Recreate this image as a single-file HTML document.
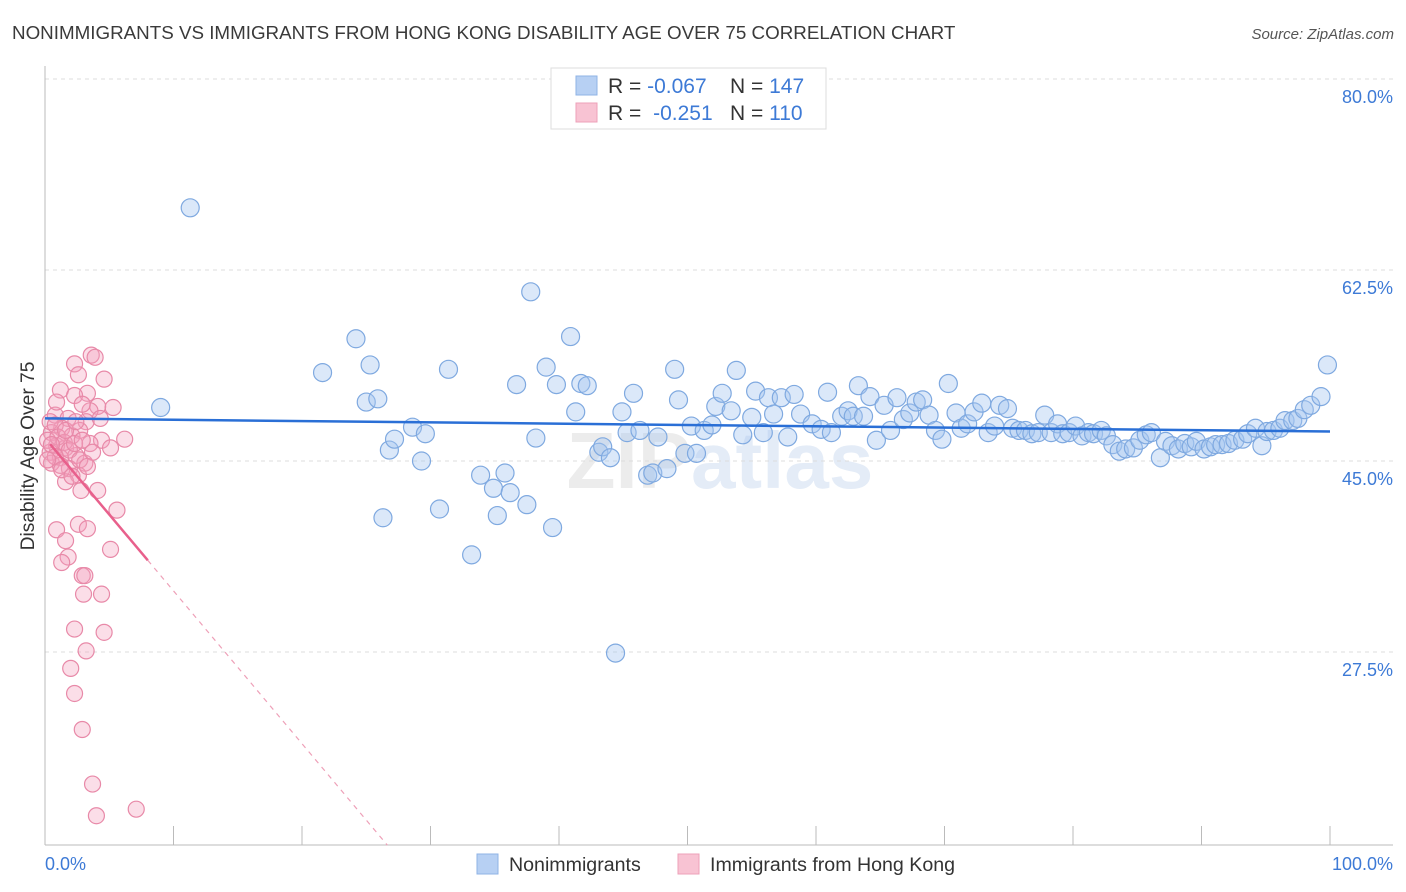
<!DOCTYPE html>
<html><head><meta charset="utf-8">
<style>
body{margin:0;background:#fff;font-family:"Liberation Sans",sans-serif;}
svg{display:block}
</style></head>
<body>
<svg id="chart" width="1406" height="892" xmlns="http://www.w3.org/2000/svg" font-family="Liberation Sans, sans-serif">
<text x="12" y="39" font-size="18.8" fill="#3a3a3a">NONIMMIGRANTS VS IMMIGRANTS FROM HONG KONG DISABILITY AGE OVER 75 CORRELATION CHART</text>
<text x="1394" y="39" font-size="15" fill="#555" font-style="italic" text-anchor="end">Source: ZipAtlas.com</text>
<text x="720" y="488" font-size="80" text-anchor="middle" font-weight="bold"><tspan fill="#ececec">ZIP</tspan><tspan fill="#e4ecf7">atlas</tspan></text>
<g id="grid"></g>
<g id="axes"></g>
<g id="pinkpts"></g>
<g id="bluepts"></g>
<g id="trends"></g>
<text transform="translate(34,456) rotate(-90)" font-size="19.2" fill="#333" text-anchor="middle">Disability Age Over 75</text>
<g>
<rect x="551" y="68" width="275" height="61" fill="#fff" stroke="#ddd"/>
<rect x="576" y="76" width="21" height="19" fill="#b7d0f3" stroke="#8fb3e6"/>
<rect x="576" y="103" width="21" height="19" fill="#f8c3d3" stroke="#eea0b8"/>
<text x="608" y="93" font-size="21" fill="#333">R = <tspan fill="#3d7ad6">-0.067</tspan></text>
<text x="730" y="93" font-size="21" fill="#333">N = <tspan fill="#3d7ad6">147</tspan></text>
<text x="608" y="120" font-size="21" fill="#333">R = <tspan fill="#3d7ad6" dx="6">-0.251</tspan></text>
<text x="730" y="120" font-size="21" fill="#333">N = <tspan fill="#3d7ad6">110</tspan></text>
</g>
<g>
<rect x="477" y="854" width="21" height="20" fill="#b7d0f3" stroke="#8fb3e6"/>
<text x="509" y="871" font-size="19.6" fill="#333">Nonimmigrants</text>
<rect x="678" y="854" width="21" height="20" fill="#f8c3d3" stroke="#eea0b8"/>
<text x="710" y="871" font-size="19.6" fill="#333">Immigrants from Hong Kong</text>
</g>
</svg>
<script>
const yTicks=[80.0,62.5,45.0,27.5];
const yTickLabels=["80.0%","62.5%","45.0%","27.5%"];
const xTicks=[0,10,20,30,40,50,60,70,80,90,100];
const blueX=[11.3,9.0,21.6,24.2,25.3,25.0,25.9,26.3,26.8,27.2,28.6,29.6,29.3,30.7,31.4,33.2,33.9,34.9,35.2,35.8,36.2,36.7,37.5,37.8,38.2,39.0,39.5,39.8,40.9,41.3,41.7,42.2,43.1,43.4,44.0,44.4,44.9,45.3,45.8,46.3,46.9,47.3,47.7,48.4,49.0,49.3,49.8,50.3,50.7,51.3,51.9,52.2,52.7,53.4,53.8,54.3,55.3,55.0,55.9,56.3,56.7,57.3,57.8,58.3,58.8,59.7,60.4,60.9,61.2,62.0,62.5,62.9,63.3,63.7,64.2,64.7,65.3,65.8,66.3,66.8,67.3,67.8,68.3,68.8,69.3,69.8,70.3,70.9,71.3,71.8,72.3,72.9,73.4,73.9,74.3,74.9,75.3,75.8,76.3,76.8,77.3,77.8,78.3,78.8,79.2,79.7,80.2,80.7,81.2,81.6,82.2,82.6,83.1,83.6,84.1,84.7,85.2,85.7,86.1,86.8,87.2,87.7,88.2,88.7,89.2,89.6,90.2,90.7,91.1,91.6,92.1,92.6,93.2,93.6,94.2,94.7,95.1,95.6,96.1,96.5,97.1,97.5,98.0,98.5,99.3,99.8];
const blueY=[68.2,49.9,53.1,56.2,53.8,50.4,50.7,39.8,46.0,47.0,48.1,47.5,45.0,40.6,53.4,36.4,43.7,42.5,40.0,43.9,42.1,52.0,41.0,60.5,47.1,53.6,38.9,52.0,56.4,49.5,52.1,51.9,45.8,46.3,45.3,27.4,49.5,47.6,51.2,47.8,43.7,43.9,47.2,44.3,53.4,50.6,45.7,48.2,45.7,47.8,48.3,50.0,51.2,49.6,53.3,47.4,51.4,49.0,47.6,50.8,49.3,50.8,47.2,51.1,49.3,48.4,47.9,51.3,47.6,49.1,49.6,49.1,51.9,49.1,50.9,46.9,50.1,47.8,50.8,48.8,49.4,50.4,50.6,49.2,47.8,47.0,52.1,49.4,48.0,48.4,49.5,50.3,47.6,48.2,50.1,49.8,48.0,47.8,47.8,47.5,47.6,49.2,47.6,48.4,47.5,47.6,48.2,47.3,47.6,47.5,47.8,47.3,46.5,45.9,46.1,46.2,46.9,47.4,47.6,45.3,46.8,46.4,46.1,46.6,46.3,46.8,46.1,46.3,46.5,46.5,46.6,46.9,47.0,47.5,48.0,46.4,47.7,47.8,48.0,48.7,48.7,48.9,49.7,50.1,50.9,53.8];
const pinkX=[3.6,3.9,2.3,2.6,4.6,1.2,3.3,2.3,4.1,5.3,3.5,0.8,1.8,3.2,1.3,2.7,0.5,2.1,6.2,4.4,3.5,0.9,1.6,5.1,0.4,2.4,1.2,3.1,0.5,1.9,2.6,1.6,4.1,2.8,5.6,0.9,2.6,3.3,1.6,5.1,1.8,1.3,2.9,3.1,3.0,4.4,2.3,4.6,3.2,2.0,2.3,2.9,3.7,4.0,7.1,0.4,0.8,0.2,1.0,1.5,1.9,0.5,1.2,2.3,2.7,0.8,1.6,2.9,3.7,2.4,0.2,1.3,2.1,3.3,4.3,0.9,2.9];
const pinkY=[54.7,54.5,53.9,52.9,52.5,51.5,51.2,51.0,50.0,49.9,49.6,49.2,48.9,48.6,48.0,47.8,47.6,47.3,47.0,46.9,46.6,46.4,46.2,46.2,45.8,45.5,45.3,44.8,44.8,44.3,43.7,43.1,42.3,42.3,40.5,38.7,39.2,38.8,37.7,36.9,36.2,35.7,34.5,34.5,32.8,32.8,29.6,29.3,27.6,26.0,23.7,20.4,15.4,12.5,13.1,48.6,48.3,46.9,47.2,46.7,46.0,46.5,44.6,46.6,45.1,45.4,47.8,46.9,45.8,48.6,45.1,44.2,43.6,44.5,48.9,50.4,50.2];
const blueTrend=[48.9,47.7];
const pinkTrend=[47.1,-1.4];
const X0=45,X1=1330,Y80=79,PXPER=191/17.5;
const sx=v=>X0+(X1-X0)*v/100;
const sy=v=>Y80+(80-v)*PXPER;
const NS="http://www.w3.org/2000/svg";
function mk(tag,attrs,parent){const e=document.createElementNS(NS,tag);for(const k in attrs)e.setAttribute(k,attrs[k]);parent.appendChild(e);return e;}
const grid=document.getElementById('grid'),axes=document.getElementById('axes');
yTicks.forEach((t,i)=>{
 const l=mk('line',{x1:45,x2:1393,y1:sy(t),y2:sy(t),stroke:'#ddd','stroke-dasharray':'4,4'},grid);
 
 
 const tx=mk('text',{x:1393,y:sy(t)+24,'font-size':18,fill:'#3d7ad6','text-anchor':'end'},axes);
 tx.textContent=yTickLabels[i];
 
 
});
const ax=mk('line',{x1:45,x2:45,y1:66,y2:845,stroke:'#bbb'},axes);


const bx=mk('line',{x1:45,x2:1393,y1:845,y2:845,stroke:'#bbb'},axes);


xTicks.forEach(t=>{
 const l=mk('line',{x1:sx(t),x2:sx(t),y1:826,y2:845,stroke:'#bbb'},axes);
 
 
});
const xl0=mk('text',{x:45,y:870,'font-size':18,fill:'#3d7ad6'},axes);xl0.textContent='0.0%';


const xl1=mk('text',{x:1393,y:870,'font-size':18,fill:'#3d7ad6','text-anchor':'end'},axes);xl1.textContent='100.0%';


const pg=document.getElementById('pinkpts');
pinkX.forEach((x,i)=>{
 const c=mk('circle',{cx:sx(x),cy:sy(pinkY[i]),r:8,fill:'rgba(244,160,190,0.35)',stroke:'#e889a8','stroke-width':1.2},pg);
 
 
});
const bg=document.getElementById('bluepts');
blueX.forEach((x,i)=>{
 const c=mk('circle',{cx:sx(x),cy:sy(blueY[i]),r:9,fill:'rgba(165,198,240,0.4)',stroke:'#7fa9e0','stroke-width':1.2},bg);
 
 
});
const tg=document.getElementById('trends');
const bt=mk('line',{x1:sx(0),y1:sy(blueTrend[0]),x2:sx(100),y2:sy(blueTrend[1]),stroke:'#2a6fd6','stroke-width':2.5},tg);


const pf=x=>pinkTrend[0]+pinkTrend[1]*x;
const ps=mk('line',{x1:sx(0.4),y1:sy(pf(0.4)),x2:sx(8),y2:sy(pf(8)),stroke:'#e8608c','stroke-width':2.5},tg);


const xe=(pf(0)-9.8)/(-pinkTrend[1]);
const pd=mk('line',{x1:sx(8),y1:sy(pf(8)),x2:sx(xe),y2:sy(pf(xe)),stroke:'#eea0b8','stroke-width':1.2,'stroke-dasharray':'5,5'},tg);


</script>
</body></html>
